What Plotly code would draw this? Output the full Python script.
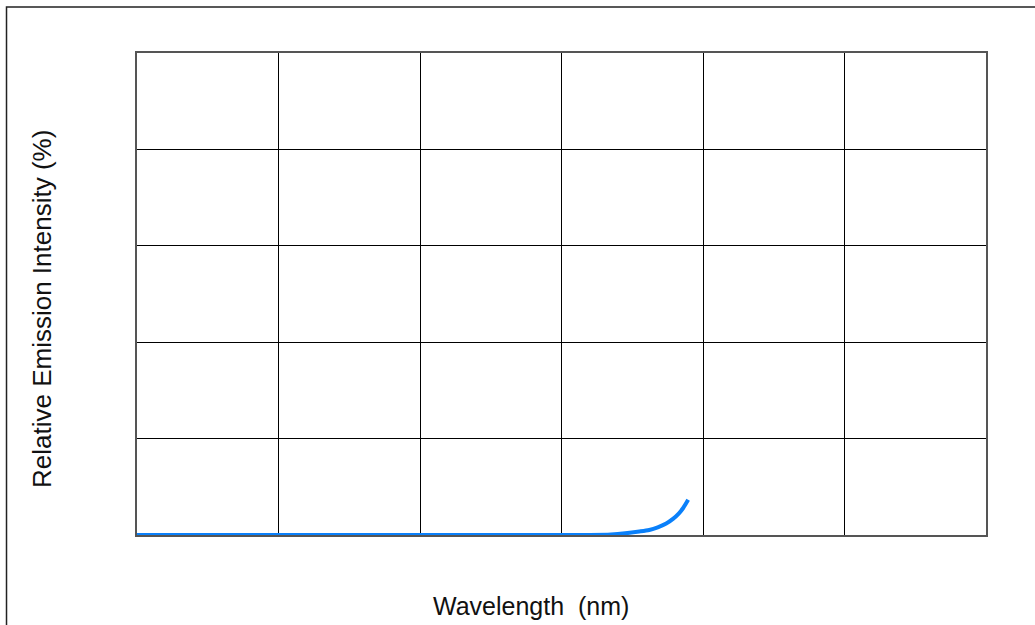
import plotly.graph_objects as go

# Emission spectrum samples (nm, % relative intensity)
wavelength = [300, 400, 500, 600, 620, 635, 645, 655, 662, 668, 674, 679, 683, 686, 689.5]
intensity = [0, 0, 0, 0, 0.02, 0.12, 0.35, 0.72, 1.05, 1.6, 2.4, 3.4, 4.5, 5.6, 7.3]

x_range = [300, 900]
y_range = [0, 100]

fig = go.Figure()
fig.add_trace(go.Scatter(
    x=wavelength, y=intensity, mode="lines",
    line=dict(color="#0a80fa", width=4, shape="spline", smoothing=0.8),
    hoverinfo="skip", cliponaxis=False,
))

axis_common = dict(
    showticklabels=False, ticks="", zeroline=False,
    showgrid=True, gridcolor="#000000", gridwidth=1,
    showline=True, mirror=True, linecolor="#555555", linewidth=2,
)
fig.update_xaxes(range=x_range, dtick=100, **axis_common)
fig.update_yaxes(range=y_range, dtick=20, **axis_common)

fig.update_layout(
    width=1035, height=625,
    margin=dict(l=137, r=49, t=53, b=90),
    paper_bgcolor="white", plot_bgcolor="white",
    showlegend=False,
    font=dict(family="Liberation Sans, Arial, sans-serif", color="#111111"),
    shapes=[dict(
        type="rect", xref="paper", yref="paper",
        x0=-0.1537, x1=1.07, y0=-0.21, y1=1.0954,
        line=dict(color="#222222", width=1.5), layer="below",
    )],
    annotations=[
        dict(text="Wavelength  (nm)", xref="paper", yref="paper",
             x=(531 - 137) / 849, y=(535 - 606) / 482,
             xanchor="center", yanchor="middle", showarrow=False,
             font=dict(size=25)),
        dict(text="Relative Emission Intensity (%)", xref="paper", yref="paper",
             x=(42 - 137) / 849, y=(535 - 309) / 482, textangle=-90,
             xanchor="center", yanchor="middle", showarrow=False,
             font=dict(size=26)),
    ],
)

fig.write_html("out.html")
